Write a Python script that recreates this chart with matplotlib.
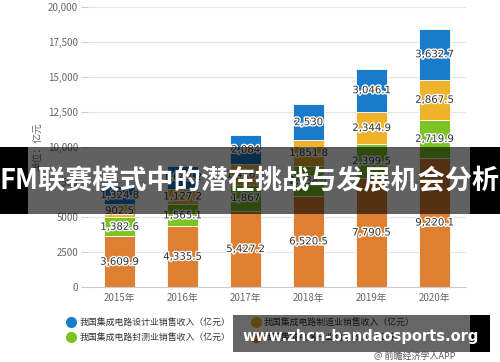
import numpy as np
import matplotlib
matplotlib.use('Agg')
from matplotlib import pyplot as plt
from matplotlib.patches import Rectangle
from matplotlib.lines import Line2D
import matplotlib.patheffects as pe

plt.rcParams['font.family'] = ['Noto Sans CJK SC', 'DejaVu Sans']

years = ['2015年', '2016年', '2017年', '2018年', '2019年', '2020年']
total = [3609.9, 4335.5, 5427.2, 6520.5, 7790.5, 9220.1]
packaging = [1382.6, 1565.1, 1867.0, 2138.7, 2399.5, 2719.9]
manufacturing = [902.5, 1127.2, 1476.2, 1851.8, 2344.9, 2867.5]
design = [1324.8, 1643.2, 2084.0, 2530.0, 3046.1, 3632.7]

names = ['我国集成电路设计业销售收入（亿元）', '我国集成电路封测业销售收入（亿元）',
         '我国集成电路制造业销售收入（亿元）', '我国集成电路产业销售收入（亿元）']

C_ORANGE = '#de7f31'
C_GREEN = '#7cc423'
C_YELLOW = '#f0b22a'
C_BLUE = '#1a7bcb'

W, H = 500, 362
fig = plt.figure(figsize=(5, 3.62), dpi=100)
ax = fig.add_axes([88 / W, 1 - 287 / H, (466 - 88) / W, (287 - 7) / H])

x = np.arange(len(years))
bw = 0.48
series = [(total, C_ORANGE), (packaging, C_GREEN), (manufacturing, C_YELLOW), (design, C_BLUE)]
bottom = np.zeros(len(years))
for vals, col in series:
    vals = np.array(vals)
    ax.bar(x, vals, bw, bottom=bottom, color=col, edgecolor='white', linewidth=0.6, zorder=2)
    for xi, b, v in zip(x, bottom, vals):
        s = f'{v:,.1f}'
        if s.endswith('.0'):
            s = s[:-2]
        ax.text(xi, b + v / 2, s, ha='center', va='center', fontsize=7.3, color='#333333',
                family='DejaVu Sans', zorder=3,
                path_effects=[pe.withStroke(linewidth=2, foreground='white')])
    bottom += vals

ax.set_xlim(-0.5, len(years) - 0.5)
ax.set_ylim(0, 20000)
yt = np.arange(0, 20001, 2500)
ax.set_yticks(yt)
ax.set_yticklabels([f'{v:,}' if v >= 10000 else f'{v}' for v in yt])
ax.set_xticks(x)
ax.set_xticklabels(years)
ax.yaxis.grid(True, color='#e6e6e6', linewidth=0.8, zorder=0)
ax.set_axisbelow(True)
for s in ['top', 'right', 'left']:
    ax.spines[s].set_visible(False)
ax.spines['bottom'].set_color('#cccccc')
ax.tick_params(axis='y', length=5, color='#cccccc', labelsize=7, labelcolor='#666666', pad=2)
ax.tick_params(axis='x', length=0, labelsize=7, labelcolor='#666666', pad=4)
ax.set_ylabel('单位：亿元', fontsize=7, color='#666666', labelpad=4)

handles = [Line2D([], [], marker='o', linestyle='', markersize=7, color=c)
           for c in [C_BLUE, C_GREEN, C_YELLOW, C_ORANGE]]
ax.legend(handles, names, ncol=2, loc='upper left', bbox_to_anchor=(67 / W, 1 - 318 / H),
          bbox_transform=fig.transFigure, frameon=False, fontsize=6.4, labelcolor='#333333',
          handletextpad=0.4, columnspacing=2.4, labelspacing=0.7, handlelength=1.0,
          borderaxespad=0, borderpad=0)

fig.text(455 / W, 1 - 356 / H, '@ 前瞻经济学人APP', fontsize=6.5, color='#555555',
         ha='right', va='center')

# overlay banner
def frect(x0, y0, x1, y1, **kw):
    fig.patches.append(Rectangle((x0 / W, 1 - y1 / H), (x1 - x0) / W, (y1 - y0) / H,
                                 transform=fig.transFigure, linewidth=0, **kw))

frect(0, 147, 28, 214, color='black', zorder=5)
frect(28, 147, 470, 214, color='black', alpha=0.62, zorder=5)
frect(470, 147, 500, 214, color='black', zorder=5)
fig.text(250 / W, 1 - 181 / H, 'FM联赛模式中的潜在挑战与发展机会分析', fontsize=19.5,
         fontweight='bold', color='white', ha='center', va='center', zorder=6)

frect(233, 315, 470, 352, color='black', alpha=0.6, zorder=5)
frect(470, 315, 490, 352, color='black', zorder=5)
fig.text(361 / W, 1 - 336 / H, 'www.zhcn-bandaosports.org', fontsize=10.5,
         fontweight='bold', color='white', ha='center', va='center', zorder=6,
         family='DejaVu Sans')

fig.savefig('out.png', dpi=100)
